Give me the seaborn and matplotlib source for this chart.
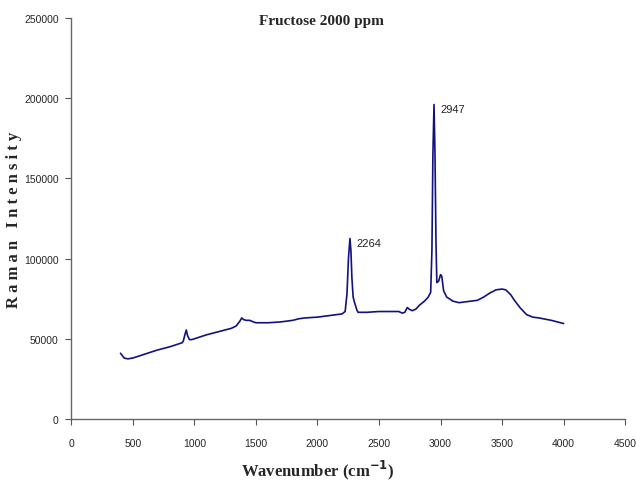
import numpy as np
import pandas as pd
import matplotlib
matplotlib.use("Agg")
import matplotlib.pyplot as plt
import seaborn as sns

sns.set_theme(style="ticks")
plt.rcParams.update({
    "font.family": ["Liberation Sans Narrow", "Liberation Sans", "DejaVu Sans"],
    "axes.unicode_minus": False,
})

WAVENUMBER = [
    400, 430, 460, 500, 600, 700, 800, 900, 910, 925, 935, 945, 960, 980,
    1000, 1100, 1200, 1300, 1340, 1370, 1385, 1400, 1420, 1450, 1480, 1500,
    1600, 1700, 1800, 1850, 1900, 2000, 2100, 2200, 2225, 2240, 2252, 2264,
    2272, 2280, 2290, 2300, 2320, 2330, 2400, 2500, 2600, 2660, 2690, 2710,
    2730, 2745, 2770, 2800, 2830, 2870, 2900, 2920, 2930, 2938, 2947, 2955,
    2963, 2970, 2985, 3000, 3010, 3025, 3050, 3100, 3150, 3200, 3300, 3350,
    3400, 3450, 3500, 3530, 3570, 3600, 3650, 3700, 3750, 3800, 3900, 4000,
]
INTENSITY = [
    41000, 38000, 37500, 38000, 40500, 43000, 45000, 47500, 48500, 53000,
    55500, 52000, 49500, 49500, 50000, 52500, 54500, 56500, 58000, 61000,
    63000, 62000, 61500, 61500, 60500, 60000, 60000, 60500, 61500, 62500,
    63000, 63500, 64500, 65500, 67000, 78000, 100000, 112500, 105000, 88000,
    76000, 73000, 68000, 66500, 66500, 67000, 67000, 67000, 66000, 66500,
    69500, 68500, 67500, 68500, 71000, 73500, 76000, 79000, 105000, 165000,
    196000, 165000, 110000, 85000, 86000, 90000, 89000, 80000, 76000, 73500,
    72500, 73000, 74000, 76000, 78500, 80500, 81000, 80500, 77500, 74000,
    69000, 65000, 63500, 63000, 61500, 59500,
]
PEAK_LABELS = ["2264", "2947"]
PEAK_POS = [2264, 2947]
PEAK_VAL = [112500, 196000]

X_TICKS = list(range(0, 4501, 500))
Y_TICKS = list(range(0, 250001, 50000))

df = pd.DataFrame({"wavenumber": WAVENUMBER, "intensity": INTENSITY})

fig = plt.figure(figsize=(6.36, 4.85), dpi=100)
ax = fig.add_axes([0.112, 0.134, 0.871, 0.827])

sns.lineplot(data=df, x="wavenumber", y="intensity", color="#12127f",
             linewidth=1.2, ax=ax, legend=False)

for lab, px, py in zip(PEAK_LABELS, PEAK_POS, PEAK_VAL):
    ax.text(px + 50, py - 3000, lab, ha="left", va="center",
            fontsize=8, color="#222222")

ax.set_xlim(0, 4500)
ax.set_ylim(0, 250000)
ax.set_xticks(X_TICKS)
ax.set_yticks(Y_TICKS)
ax.set_xticklabels([str(t) for t in X_TICKS])
ax.set_yticklabels([str(t) for t in Y_TICKS])
ax.tick_params(axis="both", labelsize=7.5, length=4, width=0.8,
               color="#555555", direction="out", pad=5)
ax.xaxis.set_tick_params(pad=10)
for side in ["top", "right"]:
    ax.spines[side].set_visible(False)
for side in ["left", "bottom"]:
    ax.spines[side].set_color("#666666")
    ax.spines[side].set_linewidth(1.0)
ax.set_xlabel("")
ax.set_ylabel("")

serif = ["Liberation Serif", "DejaVu Serif"]
fig.text(0.506, 0.955, "Fructose 2000 ppm", ha="center", va="center",
         family=serif, fontweight="bold", fontsize=11)
fig.text(0.5, 0.03, r"Wavenumber (cm$^{\mathbf{-1}}$)", ha="center", va="center",
         family=serif, fontweight="bold", fontsize=12)
fig.text(0.022, 0.546, "R a m a n   I n t e n s i t y", ha="center", va="center",
         rotation=90, family=serif, fontweight="bold", fontsize=12)

fig.savefig("out.png", dpi=100, facecolor="white")
plt.close(fig)
